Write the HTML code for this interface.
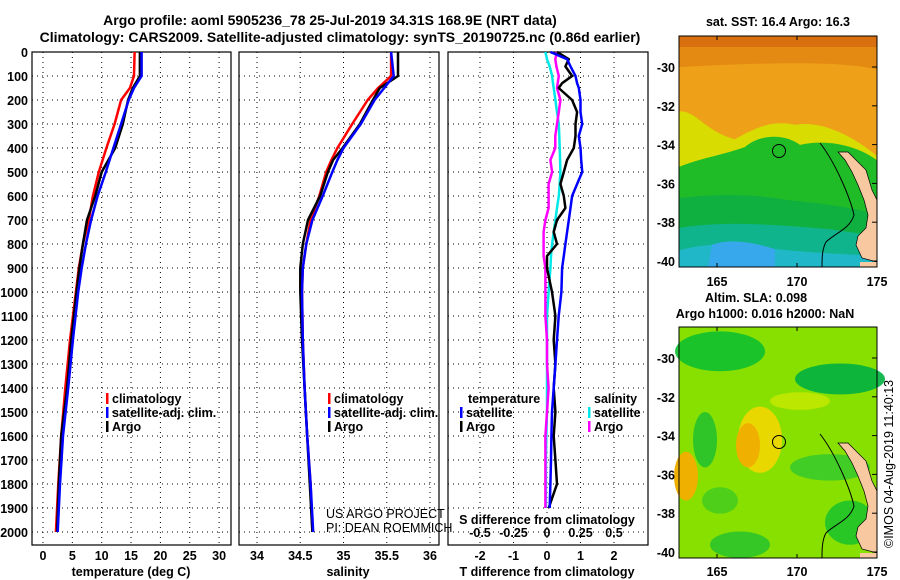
<!DOCTYPE html>
<html><head><meta charset="utf-8"><title>Argo profile</title>
<style>
html,body{margin:0;padding:0;background:#fff;}
svg{display:block;font-family:"Liberation Sans",Arial,sans-serif;}
.b{font-weight:bold;font-size:12.5px;}
.n{font-size:12.5px;}
.t{font-weight:bold;font-size:14px;}
.grid{stroke:#000;stroke-width:1;stroke-dasharray:1,4;}
</style></head>
<body>
<svg id="fig" width="900" height="580" viewBox="0 0 900 580" xmlns="http://www.w3.org/2000/svg">
<text class="t" x="330" y="25" text-anchor="middle">Argo profile: aoml 5905236_78 25-Jul-2019 34.31S 168.9E (NRT data)</text>
<text class="t" x="340" y="42" text-anchor="middle">Climatology: CARS2009. Satellite-adjusted climatology: synTS_20190725.nc (0.86d earlier)</text>

<g id="p1"></g>
<g id="p2"></g>
<g id="p3"></g>

<!-- SST map -->
<text class="b" x="778" y="26" text-anchor="middle">sat. SST: 16.4 Argo: 16.3</text>
<g transform="translate(0,0.46) scale(1,1.1106)">
<rect x="679" y="32" width="198" height="208" fill="#eea018"/>
<rect x="679" y="32" width="198" height="10" fill="#d87010"/>
<path d="M679,42 H877 V62 C840,54 760,56 679,60 Z" fill="#e48a12"/>
<path d="M679,100 C695,98 705,118 735,125 C760,112 775,108 795,112 C820,108 850,120 877,140 V240 H679 Z" fill="#d8dc00"/>
<path d="M679,150 C700,142 720,140 745,132 C760,120 785,120 800,130 C830,124 860,132 877,144 V240 H679 Z" fill="#20bc28"/>
<path d="M679,178 C700,176 740,172 790,180 C830,183 860,188 877,193 V240 H679 Z" fill="#10b040"/>
<path d="M679,205 C720,198 780,202 830,206 L877,212 V240 H679 Z" fill="#10b48c"/>
<path d="M679,225 C700,220 720,218 760,222 C790,226 830,228 877,230 V240 H679 Z" fill="#20b8c8"/>
<path d="M712,220 C730,214 755,218 775,224 L775,240 H708 Z" fill="#38a8ec"/>
</g>
<g id="land1"></g>
<circle cx="779" cy="151" r="6.5" fill="none" stroke="#000" stroke-width="1"/>
<rect x="679" y="36" width="198" height="231" fill="none" stroke="#000"/>
<g id="m1ax"></g>

<!-- SLA map -->
<text class="b" x="756" y="302" text-anchor="middle">Altim. SLA: 0.098</text>
<text class="b" x="765" y="318" text-anchor="middle">Argo h1000: 0.016 h2000: NaN</text>
<g transform="translate(0,3.15) scale(1,1.1053)">
<rect x="679" y="293" width="198" height="209" fill="#88e000"/>
<ellipse cx="720" cy="315" rx="45" ry="18" fill="#10c030" opacity="0.9"/>
<ellipse cx="840" cy="340" rx="45" ry="14" fill="#00b040" opacity="0.9"/>
<ellipse cx="760" cy="395" rx="22" ry="30" fill="#e8d800"/>
<ellipse cx="748" cy="400" rx="12" ry="20" fill="#f0b000"/>
<ellipse cx="686" cy="428" rx="12" ry="22" fill="#f0b000"/>
<ellipse cx="705" cy="395" rx="12" ry="25" fill="#20c030" opacity="0.85"/>
<ellipse cx="830" cy="420" rx="40" ry="12" fill="#30c830" opacity="0.8"/>
<ellipse cx="740" cy="490" rx="30" ry="12" fill="#20c030" opacity="0.8"/>
<ellipse cx="720" cy="450" rx="18" ry="12" fill="#40cc20" opacity="0.8"/>
<ellipse cx="800" cy="360" rx="30" ry="8" fill="#c8e800" opacity="0.8"/>
<ellipse cx="850" cy="470" rx="25" ry="20" fill="#10c030" opacity="0.8"/>
</g>
<g id="land2"></g>
<circle cx="779" cy="442" r="6.5" fill="none" stroke="#000" stroke-width="1"/>
<rect x="679" y="327" width="198" height="231" fill="none" stroke="#000"/>
<g id="m2ax"></g>
<text x="893" y="548" font-size="12.5" transform="rotate(-90 893 548)">©IMOS 04-Aug-2019 11:40:13</text>
</svg>
<script>
// ---------- data ----------
const tDepth = [0,100,150,200,300,400,500,600,700,800,900,1000,1200,1400,1600,1800,2000];
const tClim  = [15.6,15.5,14.8,13.3,12.2,10.8,9.5,8.5,7.8,6.8,6.1,5.6,4.6,3.8,3.1,2.6,2.2];
const tSat   = [16.8,16.8,15.5,14.6,13.3,12.0,10.7,9.3,8.2,7.3,6.6,6.0,5.1,4.3,3.4,2.9,2.5];
const tArgo  = [16.5,16.5,15.3,14.5,13.6,12.3,10.0,8.9,7.5,6.8,6.2,5.7,4.8,4.1,3.1,2.7,2.4];
const sDepth = [0,100,150,200,300,400,450,500,600,700,800,900,1000,1200,1400,1600,1800,2000];
const sClim  = [35.55,35.55,35.40,35.28,35.10,34.93,34.86,34.80,34.72,34.62,34.57,34.53,34.52,34.53,34.55,34.58,34.62,34.64];
const sSat   = [35.55,35.58,35.47,35.36,35.20,35.00,34.93,34.87,34.76,34.64,34.57,34.53,34.52,34.53,34.55,34.58,34.62,34.65];
const sArgo  = [35.63,35.63,35.42,35.34,35.19,34.99,34.88,34.82,34.73,34.59,34.53,34.50,34.50,34.52,34.55,34.58,34.61,34.64];
const dDepth = [0,30,60,100,130,150,200,250,300,350,400,450,500,550,600,650,700,750,800,850,900,1000,1100,1200,1300,1400,1500,1600,1700,1800,1900];
const dTSat  = [0.1,0.6,0.7,0.85,0.9,0.95,1.0,1.0,1.05,0.95,1.0,1.02,1.05,0.9,0.75,0.7,0.65,0.6,0.55,0.5,0.45,0.43,0.35,0.3,0.25,0.2,0.15,0.13,0.12,0.1,0.08];
const dTArgo = [0.3,0.65,0.55,0.75,0.45,0.35,0.75,0.9,0.85,0.85,0.8,0.6,0.5,0.4,0.5,0.55,0.3,0.2,0.3,0.0,0.0,0.15,0.25,0.2,0.25,0.2,0.25,0.2,0.25,0.3,0.05];
const dSSat  = [-0.012,0.0,0.02,0.038,0.045,0.05,0.063,0.075,0.088,0.092,0.095,0.098,0.1,0.095,0.088,0.075,0.063,0.05,0.038,0.03,0.025,0.012,0.0,0.0,0.0,0.0,0.0,-0.005,-0.008,-0.008,-0.008];
const dSArgo = [0.075,0.062,0.07,0.088,0.08,0.075,0.1,0.088,0.075,0.062,0.062,0.025,0.038,0.012,0.012,0.012,-0.012,-0.025,-0.025,-0.025,-0.012,-0.012,-0.012,0.0,0.0,0.012,0.0,-0.012,-0.012,-0.012,-0.012];
const depthTicks = [0,100,200,300,400,500,600,700,800,900,1000,1100,1200,1300,1400,1500,1600,1700,1800,1900,2000];
const tTicks = [0,5,10,15,20,25,30];
const sTicks = [34,34.5,35,35.5,36];
const dTTicks = [-2,-1,0,1,2];
const dSTicks = [-0.5,-0.25,0,0.25,0.5];
const latTicks = [-30,-32,-34,-36,-38,-40];
const lonTicks = [165,170,175];

const NS = 'http://www.w3.org/2000/svg';
function mk(tag, parent, attrs){const e=document.createElementNS(NS,tag);for(const k in attrs)e.setAttribute(k,attrs[k]);parent.appendChild(e);return e;}
const yD = d => 52 + d*0.24;
const xT = v => 43 + v*5.87;
const xS = v => 257 + (v-34)*86.5;
const xDT = v => 547 + v*33.5;
const xDS = v => 547 + v*4*33.5;

function frame(g, x0, x1, xticks, xf, labelY){
  depthTicks.forEach(d=>{ if(d>0){const l=mk('line',g,{x1:x0,x2:x1,y1:yD(d),y2:yD(d),class:'grid'});
     }});
  xticks.forEach(v=>{const l=mk('line',g,{x1:xf(v),x2:xf(v),y1:52,y2:545,class:'grid'});
     
    const t=mk('text',g,{x:xf(v),y:labelY,'text-anchor':'middle',class:'b'});t.textContent=v;
     });
  const r=mk('rect',g,{x:x0,y:52,width:x1-x0,height:493,fill:'none',stroke:'#000','stroke-width':1.2});
   
}
function line(g, depths, vals, xf, color, name){
  const pts = depths.map((d,i)=>xf(vals[i]).toFixed(1)+','+yD(d).toFixed(1)).join(' ');
  const p=mk('polyline',g,{points:pts,fill:'none',stroke:color,'stroke-width':2.5,'stroke-linejoin':'round'});
   
}
function legend(g, x, y, items){
  items.forEach((it,i)=>{
    const r=mk('rect',g,{x:x,y:y+i*14-10,width:2.5,height:11,fill:it[1]});
     
    const t=mk('text',g,{x:x+6,y:y+i*14,class:'b'}); t.textContent=it[0];
     
  });
}
function txt(g,x,y,s,cls,anchor,name){const t=mk('text',g,{x:x,y:y,class:cls,'text-anchor':anchor});t.textContent=s;
    return t;}

// Panel 1
const p1=document.getElementById('p1');
frame(p1,32,231,tTicks,xT,560);
depthTicks.forEach(d=>{txt(p1,28,yD(d)+5,d,'b','end','y-tick-label');});
line(p1,tDepth,tClim,xT,'#ff0000','temp-climatology-line');
line(p1,tDepth,tArgo,xT,'#000000','temp-argo-line');
line(p1,tDepth,tSat,xT,'#0000ff','temp-satellite-line');
legend(p1,106,403,[['climatology','#ff0000'],['satellite-adj. clim.','#0000ff'],['Argo','#000000']]);
txt(p1,131,576,'temperature (deg C)','b','middle','x-axis-title-temperature');

// Panel 2
const p2=document.getElementById('p2');
frame(p2,239,439,sTicks,xS,560);
line(p2,sDepth,sClim,xS,'#ff0000','sal-climatology-line');
line(p2,sDepth,sArgo,xS,'#000000','sal-argo-line');
line(p2,sDepth,sSat,xS,'#0000ff','sal-satellite-line');
legend(p2,328,403,[['climatology','#ff0000'],['satellite-adj. clim.','#0000ff'],['Argo','#000000']]);
txt(p2,348,576,'salinity','b','middle','x-axis-title-salinity');
txt(p2,326,518,'US ARGO PROJECT','n','start','credit-project');
txt(p2,326,532,'PI: DEAN ROEMMICH','n','start','credit-pi');

// Panel 3
const p3=document.getElementById('p3');
frame(p3,448,648,dTTicks,xDT,560);
line(p3,dDepth,dSSat,xDS,'#00e8e8','sdiff-satellite-line');
line(p3,dDepth,dSArgo,xDS,'#ff00ff','sdiff-argo-line');
line(p3,dDepth,dTArgo,xDT,'#000000','tdiff-argo-line');
line(p3,dDepth,dTSat,xDT,'#0000ff','tdiff-satellite-line');
dSTicks.forEach(v=>{txt(p3,xDS(v),537,v,'b','middle','s-tick-label');});
txt(p3,547,524,'S difference from climatology','b','middle','s-axis-title');
txt(p3,547,576,'T difference from climatology','b','middle','t-axis-title');
txt(p3,468,403,'temperature','b','start','legend-title-temperature');
legend(p3,460,417,[['satellite','#0000ff'],['Argo','#000000']]);
txt(p3,594,403,'salinity','b','start','legend-title-salinity');
legend(p3,588,417,[['satellite','#00e8e8'],['Argo','#ff00ff']]);

// Map axes
function mapAxes(gid, y0, y1, latY, lonLabelY){
  const g=document.getElementById(gid);
  latTicks.forEach(v=>{const y=latY(v);
    mk('line',g,{x1:872,x2:877,y1:y,y2:y,stroke:'#000'});
    txt(g,675,y+5,v,'b','end','lat-tick-label');});
  lonTicks.forEach(v=>{const x=717+(v-165)*16;
    mk('line',g,{x1:x,x2:x,y1:y0,y2:y0+4,stroke:'#000'});
    mk('line',g,{x1:x,x2:x,y1:y1-4,y2:y1,stroke:'#000'});
    txt(g,x,lonLabelY,v,'b','middle','lon-tick-label');});
}
mapAxes('m1ax',36,267,v=>67+(-30-v)*19.4,286);
mapAxes('m2ax',327,558,v=>358+(-30-v)*19.4,576);

// Land + shelf contour (offsets relative to the -30 latitude line)
function land(gid, y30, yBottom){
  const g=document.getElementById(gid);
  const pts=[[838,85],[845,93],[852,105],[858,118],[864,133],[868,148],[866,161],[858,169],[856,178],[862,191],[877,195],[877,133],[872,123],[866,103],[856,93],[848,85]];
  const p=mk('polygon',g,{points:pts.map(q=>q[0]+','+(q[1]+y30)).join(' '),fill:'#f8c8a0',stroke:'#000','stroke-width':0.7});
   
  const tail=mk('rect',g,{x:860,y:195+y30,width:17,height:Math.max(0,yBottom-(195+y30)),fill:'#f8c8a0'});
   
  const c=mk('path',g,{d:'M820,'+(76+y30)+' C835,'+(95+y30)+' 850,'+(130+y30)+' 854,'+(148+y30)+' C850,'+(162+y30)+' 835,'+(166+y30)+' 826,'+(175+y30)+' C822,'+(182+y30)+' 822,'+(192+y30)+' 822,'+yBottom,fill:'none',stroke:'#000','stroke-width':1});
   
}
land('land1',67,267);
land('land2',358,558);
</script>
</body></html>
